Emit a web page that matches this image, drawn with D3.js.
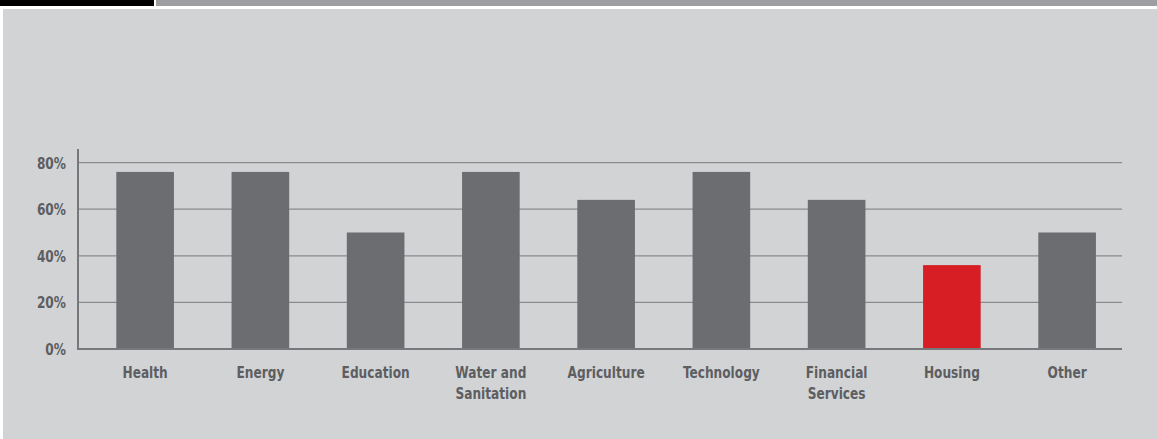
<!DOCTYPE html>
<html>
<head>
<meta charset="utf-8">
<script src="https://cdn.jsdelivr.net/npm/d3@7"></script>
<style>
  html, body { margin: 0; padding: 0; background: #ffffff; }
  svg { display: block; }
  .tick-label { font-family: "DejaVu Sans Condensed", "DejaVu Sans", sans-serif; font-weight: bold; fill: #5d5e61; }
</style>
</head>
<body>
<div id="chart"></div>
<script>
// Données du graphique
const categories = ['Health', 'Energy', 'Education', 'Water and|Sanitation', 'Agriculture', 'Technology', 'Financial|Services', 'Housing', 'Other'];
const values = [76, 76, 50, 76, 64, 76, 64, 36, 50];
const highlighted = ['Housing'];
const yTicks = [0, 20, 40, 60, 80];

const WIDTH = 1157;
const HEIGHT = 439;
const SQUEEZE = 0.82; // police condensée façon DIN

const svg = d3.select('#chart').append('svg')
    .attr('width', WIDTH)
    .attr('height', HEIGHT);

// Bandeau du haut
svg.append('rect').attr('x', 0).attr('y', 0).attr('width', 154).attr('height', 6).attr('fill', '#000000');
svg.append('rect').attr('x', 156).attr('y', 0).attr('width', WIDTH - 156).attr('height', 6).attr('fill', '#9d9ea2');

// Fond du panneau
svg.append('rect').attr('x', 3).attr('y', 9).attr('width', WIDTH - 3).attr('height', HEIGHT - 9).attr('fill', '#d2d3d5');

// Échelles
const x = d3.scaleBand()
    .domain(categories)
    .range([87.5, 1124.75])
    .paddingInner(0.5)
    .paddingOuter(0.25);

const y = d3.scaleLinear()
    .domain([0, 80])
    .range([349, 162.6]);

const axisLeftX = 78;
const gridRight = 1122;

// Grille
svg.append('g')
    .selectAll('line')
    .data(yTicks.filter(d => d > 0))
    .join('line')
    .attr('x1', axisLeftX)
    .attr('x2', gridRight)
    .attr('y1', d => y(d))
    .attr('y2', d => y(d))
    .attr('stroke', '#8a8b8e')
    .attr('stroke-width', 1.3);

// Barres
svg.append('g')
    .selectAll('rect')
    .data(categories)
    .join('rect')
    .attr('x', d => x(d))
    .attr('y', (d, i) => y(values[i]))
    .attr('width', x.bandwidth())
    .attr('height', (d, i) => y(0) - y(values[i]))
    .attr('fill', d => highlighted.includes(d) ? '#d71e25' : '#6c6d70');

// Axes
svg.append('line')
    .attr('x1', axisLeftX).attr('x2', axisLeftX)
    .attr('y1', 149).attr('y2', y(0) + 1)
    .attr('stroke', '#77787b').attr('stroke-width', 2);
svg.append('line')
    .attr('x1', axisLeftX).attr('x2', gridRight)
    .attr('y1', y(0)).attr('y2', y(0))
    .attr('stroke', '#77787b').attr('stroke-width', 2);

// Labels Y
svg.append('g')
    .selectAll('text')
    .data(yTicks)
    .join('text')
    .attr('class', 'tick-label')
    .attr('transform', d => `translate(66,${y(d) + 6}) scale(${SQUEEZE},1)`)
    .attr('text-anchor', 'end')
    .attr('font-size', '16.5px')
    .text(d => d + '%');

// Labels X
const xl = svg.append('g')
    .selectAll('text')
    .data(categories)
    .join('text')
    .attr('class', 'tick-label')
    .attr('transform', d => `translate(${x(d) + x.bandwidth() / 2},377.5) scale(${SQUEEZE},1)`)
    .attr('text-anchor', 'middle')
    .attr('font-size', '16.5px');

xl.each(function(d) {
    const lines = d.split('|');
    d3.select(this).selectAll('tspan')
        .data(lines)
        .join('tspan')
        .attr('x', 0)
        .attr('dy', (l, i) => i === 0 ? 0 : 22)
        .text(l => l);
});
</script>
</body>
</html>
